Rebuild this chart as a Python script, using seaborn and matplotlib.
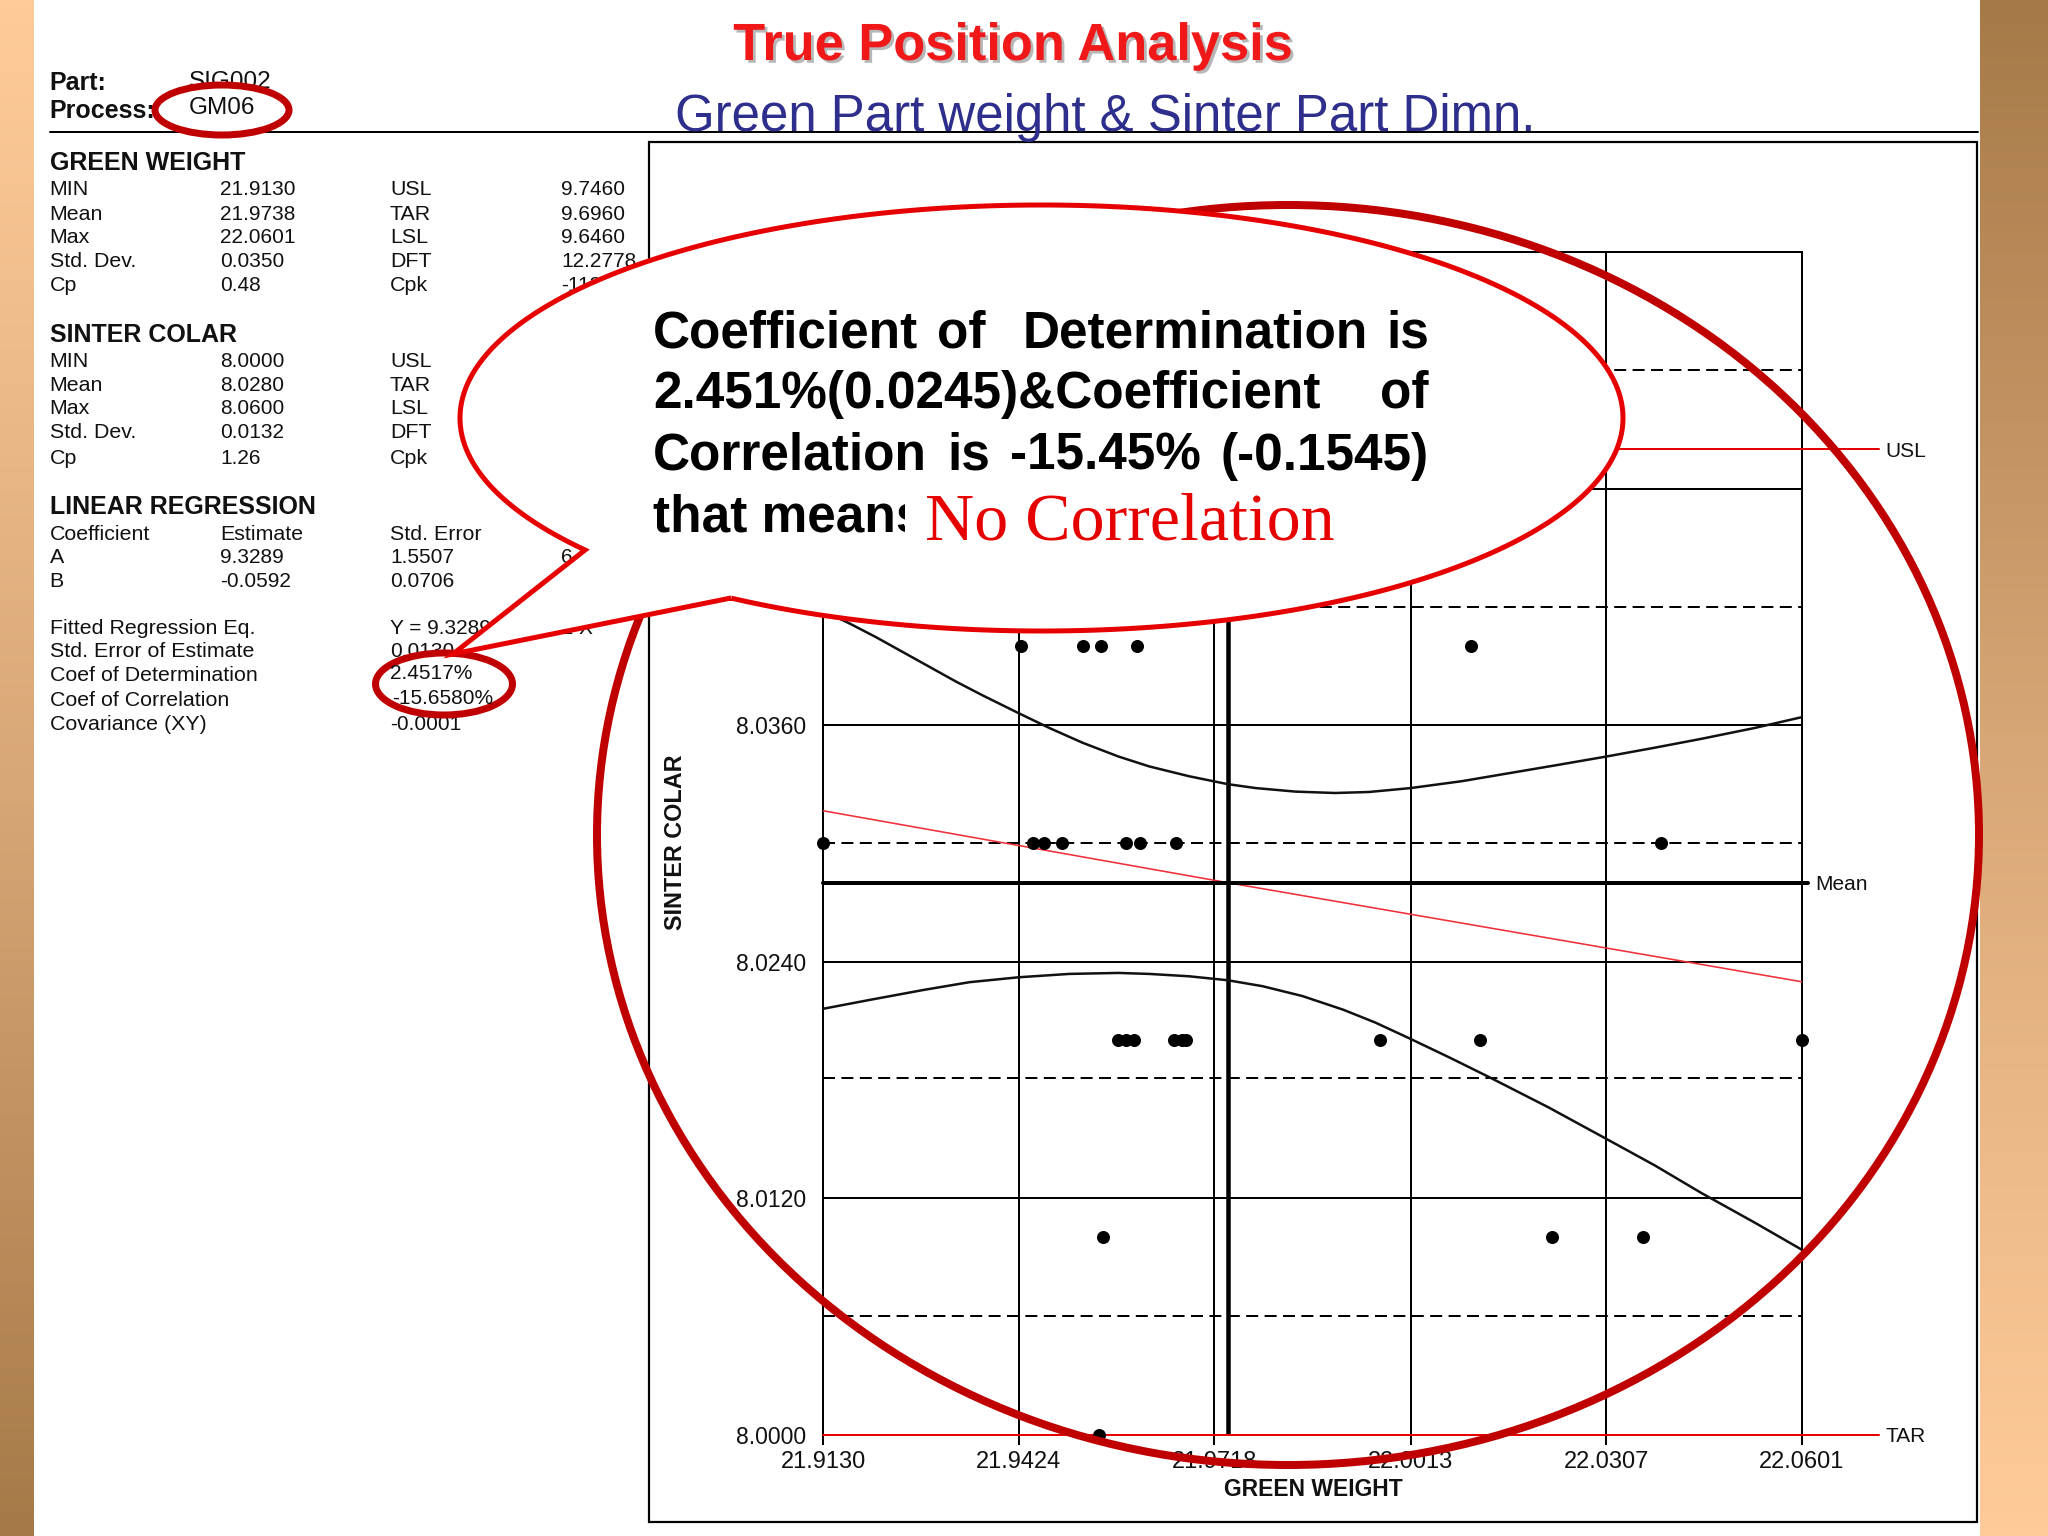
import numpy as np
import pandas as pd
import matplotlib
matplotlib.use("Agg")
import matplotlib.pyplot as plt
import matplotlib.patheffects as pe
from matplotlib.patches import Ellipse, Polygon, Rectangle
from matplotlib.colors import LinearSegmentedColormap
import seaborn as sns

# ---------- data ----------
x_ticks = [21.9130, 21.9424, 21.9718, 22.0013, 22.0307, 22.0601]
x_tick_labels = ["21.9130", "21.9424", "21.9718", "22.0013", "22.0307", "22.0601"]
y_ticks = [8.0000, 8.0120, 8.0240, 8.0360, 8.0480, 8.0600]
y_tick_labels = ["8.0000", "8.0120", "8.0240", "8.0360", "8.0480", "8.0600"]
y_dashed = [8.0060, 8.0181, 8.0300, 8.0420, 8.0540]
usl = 8.0500
tar = 8.0000
mean_y = 8.0280
mean_x = 21.9738

pts_x = [21.9428, 21.9520, 21.9547, 21.9602, 22.0103,
         21.9130, 21.9446, 21.9462, 21.9489, 21.9585, 21.9606, 21.9660, 22.0389,
         21.9574, 21.9586, 21.9597, 21.9657, 21.9670, 21.9676, 21.9967, 22.0117, 22.0601,
         21.9551, 22.0225, 22.0362,
         21.9544]
pts_y = [8.04] * 5 + [8.03] * 8 + [8.02] * 9 + [8.01] * 3 + [8.00]

upper_x = [21.9130, 21.9170, 21.9210, 21.9250, 21.9290, 21.9330, 21.9370, 21.9424, 21.9470,
           21.9520, 21.9574, 21.9620, 21.9680, 21.9738, 21.9780, 21.9840, 21.9899, 21.9950,
           22.0013, 22.0090, 22.0160, 22.0230, 22.0307, 22.0380, 22.0450, 22.0530, 22.0601]
upper_y = [8.0418, 8.04115, 8.04045, 8.0397, 8.03895, 8.0382, 8.0375, 8.0366, 8.03585,
           8.0351, 8.0344, 8.0339, 8.0334, 8.0330, 8.0328, 8.03262, 8.03255, 8.0326,
           8.0328, 8.03315, 8.03355, 8.03395, 8.0344, 8.03485, 8.0353, 8.03585, 8.0364]
lower_x = [21.9130, 21.9200, 21.9280, 21.9350, 21.9424, 21.9500, 21.9574, 21.9620, 21.9680,
           21.9738, 21.9790, 21.9850, 21.9912, 21.9960, 22.0013, 22.0070, 22.0130, 22.0220,
           22.0307, 22.0380, 22.0450, 22.0530, 22.0601]
lower_y = [8.0216, 8.02205, 8.02255, 8.02295, 8.0232, 8.02337, 8.02342, 8.02337, 8.02325,
           8.02305, 8.02275, 8.02225, 8.02155, 8.0209, 8.02007, 8.01915, 8.01815, 8.0166,
           8.0150, 8.01365, 8.01225, 8.01075, 8.00937]
reg_x = [21.9130, 21.9738, 22.0601]
reg_y = [8.03165, 8.0280, 8.02297]

panel_rows = [
    ("GREEN WEIGHT", 161, None, None, None),
    ("MIN", 187, "21.9130", "USL", "9.7460"),
    ("Mean", 212, "21.9738", "TAR", "9.6960"),
    ("Max", 235, "22.0601", "LSL", "9.6460"),
    ("Std. Dev.", 259, "0.0350", "DFT", "12.2778"),
    ("Cp", 283, "0.48", "Cpk", "-113.93"),
    ("SINTER COLAR", 333, None, None, None),
    ("MIN", 359, "8.0000", "USL", None),
    ("Mean", 383, "8.0280", "TAR", None),
    ("Max", 406, "8.0600", "LSL", None),
    ("Std. Dev.", 430, "0.0132", "DFT", None),
    ("Cp", 456, "1.26", "Cpk", None),
    ("LINEAR REGRESSION", 504, None, None, None),
    ("Coefficient", 532, "Estimate", "Std. Error", None),
    ("A", 555, "9.3289", "1.5507", "6.0159"),
    ("B", 579, "-0.0592", "0.0706", None),
    ("Fitted Regression Eq.", 626, None, "Y = 9.3289 - 0.0592 X", None),
    ("Std. Error of Estimate", 649, None, "0.0130", None),
    ("Coef of Determination", 673, None, None, None),
    ("Coef of Correlation", 698, None, None, None),
    ("Covariance (XY)", 722, None, "-0.0001", None),
]

# ---------- setup ----------
sns.set_theme(style="white")
plt.rcParams["font.family"] = ["Liberation Sans", "DejaVu Sans"]
W, H = 2048, 1536
fig = plt.figure(figsize=(W / 100, H / 100), dpi=100, facecolor="white")
PX = 0.72  # points per pixel

# background strips
bg = fig.add_axes([0, 0, 1, 1], zorder=0)
bg.set_xlim(0, W); bg.set_ylim(H, 0); bg.axis("off")
cmap = LinearSegmentedColormap.from_list("tan", ["#FFCC99", "#D9A878", "#A67A48"])
grad = np.linspace(0, 1, 256).reshape(-1, 1)
bg.imshow(grad, extent=(0, 34, H, 0), cmap=cmap, aspect="auto")
bg.imshow(grad[::-1], extent=(1980, W, H, 0), cmap=cmap, aspect="auto")
bg.set_xlim(0, W); bg.set_ylim(H, 0)

# ---------- chart ----------
L, R, T, B = 823, 1802, 252, 1434.5
ax = fig.add_axes([L / W, 1 - B / H, (R - L) / W, (B - T) / H], zorder=2)
ax.patch.set_alpha(0)
ax.set_xlim(x_ticks[0], x_ticks[-1])
ax.set_ylim(y_ticks[0], y_ticks[-1])

LW = 2 * PX
for v in x_ticks:
    ax.axvline(v, color="black", lw=LW, zorder=1)
for v in y_ticks[1:]:
    ax.axhline(v, color="black", lw=LW, zorder=1)
for v in y_dashed:
    ax.axhline(v, color="black", lw=LW, ls=(0, (6, 3.2)), zorder=1)
ax.axvline(mean_x, color="black", lw=4.5 * PX, zorder=2)

sns.lineplot(x=upper_x, y=upper_y, color="#111111", lw=2.5 * PX, ax=ax, errorbar=None, zorder=3)
sns.lineplot(x=lower_x, y=lower_y, color="#111111", lw=2.5 * PX, ax=ax, errorbar=None, zorder=3)
sns.lineplot(x=reg_x, y=reg_y, color="#F0303A", lw=1.6 * PX, ax=ax, errorbar=None, zorder=3)

tr = ax.get_yaxis_transform()
ax.plot([0, 1.0786], [usl, usl], color="#E80000", lw=LW, transform=tr, clip_on=False, zorder=3)
ax.plot([0, 1.0786], [tar, tar], color="#E80000", lw=LW, transform=tr, clip_on=False, zorder=3)
ax.plot([0, 1.0066], [mean_y, mean_y], color="black", lw=4 * PX, transform=tr, clip_on=False, zorder=3)

sns.scatterplot(data=pd.DataFrame({"x": pts_x, "y": pts_y}), x="x", y="y", color="black",
                s=88, linewidth=0, ax=ax, zorder=4, clip_on=False)

ax.set_xticks(x_ticks)
ax.set_xticklabels(x_tick_labels, fontsize=17)
ax.set_yticks(y_ticks)
ax.set_yticklabels(y_tick_labels, fontsize=16.6)
ax.tick_params(axis="x", bottom=True, length=7 * PX * 1.4, width=LW, pad=5, color="black", labelcolor="#111111")
ax.tick_params(axis="y", left=False, pad=6, labelcolor="#111111")
ax.set_xlabel(""); ax.set_ylabel("")
for side in ["top", "left", "right"]:
    ax.spines[side].set_visible(True)
    ax.spines[side].set_color("black")
    ax.spines[side].set_linewidth(LW)
ax.spines["bottom"].set_visible(False)

# ---------- overlay in pixel coordinates ----------
ov = fig.add_axes([0, 0, 1, 1], zorder=5)
ov.set_xlim(0, W); ov.set_ylim(H, 0); ov.axis("off"); ov.patch.set_alpha(0)

def txt(x, y, s, size=15, weight="normal", ha="left", z=2, color="#111111", **kw):
    return ov.text(x, y + 2.5, s, fontsize=size, fontweight=weight, ha=ha, va="center",
                   color=color, zorder=z, **kw)

# frame and rule
ov.add_patch(Rectangle((649, 142), 1328, 1380, fill=False, ec="black", lw=LW * 1.1, zorder=1))
ov.plot([50, 1978], [132, 132], color="black", lw=LW, zorder=1)

# axis titles and side labels
txt(1313, 1487, "GREEN WEIGHT", size=16.5, weight="bold", ha="center")
ov.text(676, 842, "SINTER COLAR", fontsize=16.8, fontweight="bold", ha="center", va="center",
        rotation=90, color="#111111", zorder=2)
txt(1885, 449, "USL", size=15)
txt(1815, 882, "Mean", size=15)
txt(1885, 1434, "TAR", size=15)

# titles
txt(1013, 44, "True Position Analysis", size=37.7, weight="bold", ha="center", color="#F01818",
    path_effects=[pe.withSimplePatchShadow(offset=(2, -2), shadow_rgbFace="#999999", alpha=0.7)])
txt(1105, 115, "Green Part weight & Sinter Part Dimn.", size=36.7, ha="center", color="#2E2E8C", z=1.5)

# left panel
C1, C2, C3, C4 = 49.5, 220, 390, 561
txt(C1, 80, "Part:", size=18, weight="bold")
txt(C1, 108, "Process:", size=18, weight="bold")
txt(189, 80, "SIG002", size=17.5)
for label, y, v2, v3, v4 in panel_rows:
    heading = label.isupper() and v2 is None and v3 is None
    txt(C1, y, label, size=18 if heading else 15.4, weight="bold" if heading else "normal")
    if v2: txt(C2, y, v2, size=15 if v2[0] in "-0123456789" else 15.4)
    if v3: txt(C3, y, v3, size=15.4 if v3[0].isalpha() and not v3.startswith("Y") else 15)
    if v4: txt(C4, y, v4, size=15)

# small highlight ellipses
DARK = "#C00000"
ov.add_patch(Ellipse((222, 110), 134, 50, fc="white", ec=DARK, lw=7 * PX, zorder=3))
txt(189, 106, "GM06", size=17.5, z=4)
ov.add_patch(Ellipse((444, 684), 137, 62, fc="white", ec=DARK, lw=7 * PX, zorder=3))
txt(390, 671, "2.4517%", size=15, z=4)
txt(392, 696, "-15.6580%", size=15, z=4)

# big circle
ov.add_patch(Ellipse((1288, 835), 1382, 1260, fill=False, ec=DARK, lw=8 * PX, zorder=5, clip_on=False))

# speech bubble
cx, cy, a, b = 1041.5, 418, 581.5, 213
t0 = np.arctan2((550 - cy) / b, (585 - cx) / a) % (2 * np.pi)   # where the tail leaves
t1 = np.arctan2((598 - cy) / b, (731 - cx) / a) % (2 * np.pi)   # where the tail comes back
theta = np.linspace(t0, t1 + 2 * np.pi, 400) if t1 < t0 else np.linspace(t0, t0 + (2 * np.pi - abs(t1 - t0)), 400)
outline = np.column_stack([cx + a * np.cos(theta), cy + b * np.sin(theta)])
outline = np.vstack([outline, [[731, 598], [453, 654]]])
ov.add_patch(Polygon(outline, closed=True, fc="white", ec="#E60000", lw=5 * PX, zorder=6, joinstyle="miter"))

# bubble text, justified by measuring each word
renderer = fig.canvas.get_renderer()
LEFT, RIGHT = 653, 1429
lines = [
    (331, ["Coefficient", "of", "Determination", "is"], [1, 2, 1]),
    (392, ["2.451%(0.0245)&Coefficient", "of"], [1]),
    (454, ["Correlation", "is", "-15.45%", "(-0.1545)"], [1, 1, 1]),
]
for y, words, weights in lines:
    items = [txt(0, y, w, size=37, weight="bold", z=7, color="black") for w in words]
    widths = [it.get_window_extent(renderer).width for it in items]
    gap_unit = (RIGHT - LEFT - sum(widths)) / sum(weights)
    x = LEFT
    for i, it in enumerate(items):
        it.set_x(x)
        x += widths[i] + (gap_unit * weights[i] if i < len(weights) else 0)
txt(LEFT, 515, "that means", size=37, weight="bold", z=7, color="black")
ov.add_patch(Rectangle((905, 482), 440, 68, fc="white", ec="none", zorder=8))
txt(925, 521, "No Correlation", size=49, z=9, color="#E60000", family="Liberation Serif")

fig.savefig("out.png", dpi=100)
